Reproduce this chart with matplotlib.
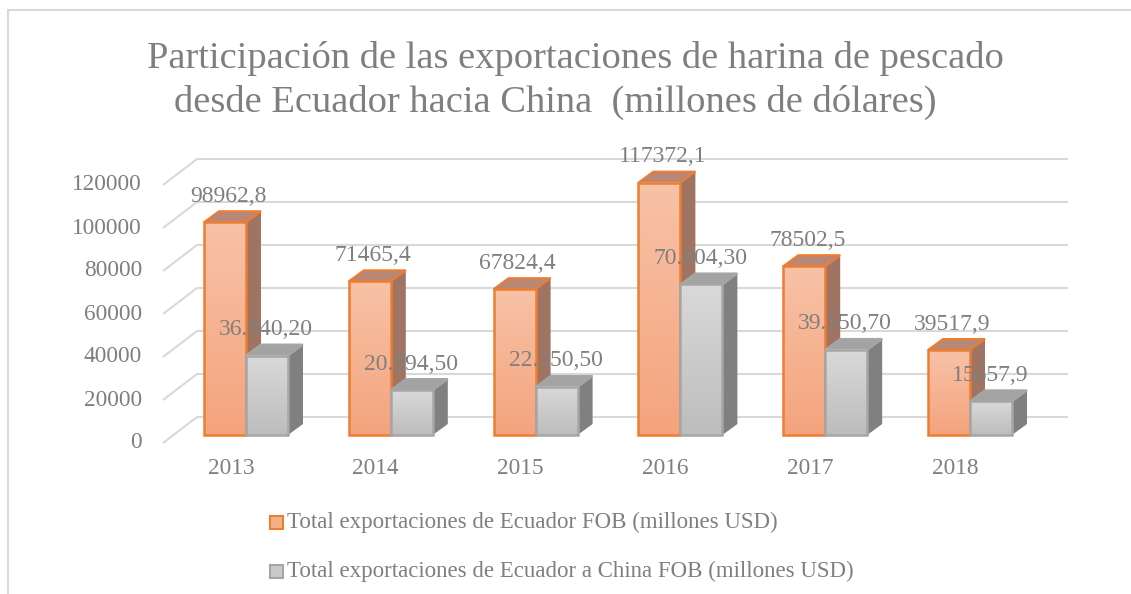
import matplotlib
matplotlib.use('Agg')
import matplotlib.pyplot as plt
import numpy as np
from matplotlib.patches import Polygon, Rectangle

# ---------------- data ----------------
years = ['2013', '2014', '2015', '2016', '2017', '2018']
total_fob = [98962.8, 71465.4, 67824.4, 117372.1, 78502.5, 39517.9]
china_fob = [36940.20, 20894.50, 22350.50, 70004.30, 39550.70, 15657.9]
china_labels = ['36.940,20', '20.894,50', '22.350,50', '70.004,30', '39.550,70', '15657,9']
yticks = [0, 20000, 40000, 60000, 80000, 100000, 120000]
title_lines = ['Participación de las exportaciones de harina de pescado',
               'desde Ecuador hacia China  (millones de dólares)']
legend_labels = ['Total exportaciones de Ecuador FOB (millones USD)',
                 'Total exportaciones de Ecuador a China FOB (millones USD)']

# ---------------- style ----------------
plt.rcParams['font.family'] = ['Liberation Serif', 'DejaVu Serif']
TXT = '#7f7f7f'
GRID = '#d9d9d9'
W, H = 1131, 594

fig = plt.figure(figsize=(W / 100, H / 100), dpi=100)
ax = fig.add_axes([0, 0, 1, 1])

# axis scaling (pixel geometry)
X0, SX = 246, 144.8      # px of category 0, px per category
Y0, SY = 435, 0.00215    # px of value 0, px per value unit
def dxp(px): return px / SX
def dyp(px): return px / SY

ax.set_xlim(-X0 / SX, (W - X0) / SX)
ax.set_ylim(-(H - Y0) / SY, Y0 / SY)
ax.axis('off')

# gridlines (back wall + floor diagonal)
for v in yticks:
    xs = [-dxp(83), -dxp(49), dxp(1068 - X0)]
    ys = [v - dyp(8), v + dyp(18), v + dyp(18)]
    ax.plot(xs, ys, color=GRID, lw=1.5, zorder=1, solid_capstyle='butt')
    ax.text(-dxp(104), v - dyp(8), f'{v}', ha='right', va='center',
            fontsize=16.8, color=TXT)

w = dxp(42)
ddx, ddy = dxp(15), dyp(11)
z = 5

def draw_bar(x0, x1, h, ctop, cbot, edge, topc, sidec, topedge):
    global z
    grad = np.linspace(0, 1, 64).reshape(-1, 1)
    c0 = np.array(matplotlib.colors.to_rgb(ctop))
    c1 = np.array(matplotlib.colors.to_rgb(cbot))
    img = c0[None, None, :] * (1 - grad[:, :, None]) + c1[None, None, :] * grad[:, :, None]
    # side
    ax.add_patch(Polygon([(x1, 0), (x1 + ddx, ddy), (x1 + ddx, h + ddy), (x1, h)],
                         closed=True, fc=sidec, ec='none', zorder=z))
    # top
    ax.add_patch(Polygon([(x0, h), (x1, h), (x1 + ddx, h + ddy), (x0 + ddx, h + ddy)],
                         closed=True, fc=topc, ec=topedge, lw=1.5, zorder=z + 0.1))
    # front with gradient
    ax.imshow(img, extent=[x0, x1, 0, h], aspect='auto', origin='upper',
              zorder=z + 0.2, interpolation='bilinear')
    ax.add_patch(Rectangle((x0, 0), x1 - x0, h, fill=False, ec=edge, lw=1.8,
                           zorder=z + 0.3))
    z += 1

for i in range(len(years)):
    draw_bar(i - w, i, total_fob[i], '#f8c2a7', '#f4a47d', '#ed7d31',
             '#b98775', '#a07463', '#ed7d31')
    draw_bar(i, i + w, china_fob[i], '#d9d9d9', '#bdbdbd', '#a6a6a6',
             '#a3a3a3', '#808080', '#a6a6a6')

# value labels
for i in range(len(years)):
    ax.annotate(f'{total_fob[i]:.1f}'.replace('.', ','), (i - w / 2, total_fob[i]),
                xytext=(3, 26), textcoords='offset pixels', ha='center', va='center',
                fontsize=17, color=TXT, zorder=50)
    ax.annotate(china_labels[i], (i + w / 2, china_fob[i]),
                xytext=(-1, 26), textcoords='offset pixels', ha='center', va='center',
                fontsize=17, color=TXT, zorder=50)
    ax.text(i - dxp(15), -dyp(34), years[i], ha='center', va='center',
            fontsize=16.8, color=TXT)

ax.set_xlim(-X0 / SX, (W - X0) / SX)
ax.set_ylim(-(H - Y0) / SY, Y0 / SY)

# title
fig.text(575 / W, 1 - 59 / H, title_lines[0], ha='center', va='center', fontsize=27.7, color=TXT)
fig.text(555 / W, 1 - 102 / H, title_lines[1], ha='center', va='center', fontsize=27.7, color=TXT)

# legend
leg_cols = [('#f4b183', '#ed7d31'), ('#c9c9c9', '#a5a5a5')]
for k, (lab, (fc, ec)) in enumerate(zip(legend_labels, leg_cols)):
    yc = 522 + 49 * k
    fig.add_artist(Rectangle((270 / W, 1 - (yc + 6.5) / H), 13 / W, 13 / H,
                             transform=fig.transFigure, fc=fc, ec=ec, lw=1.5))
    fig.text(287 / W, 1 - yc / H, lab, ha='left', va='center', fontsize=16.5, color=TXT)

# chart frame
fig.add_artist(Rectangle((8 / W, -0.2), 1.5, 1.2 - 10 / H, transform=fig.transFigure,
                         fill=False, ec=GRID, lw=1.5))

fig.savefig('out.png', dpi=100)
